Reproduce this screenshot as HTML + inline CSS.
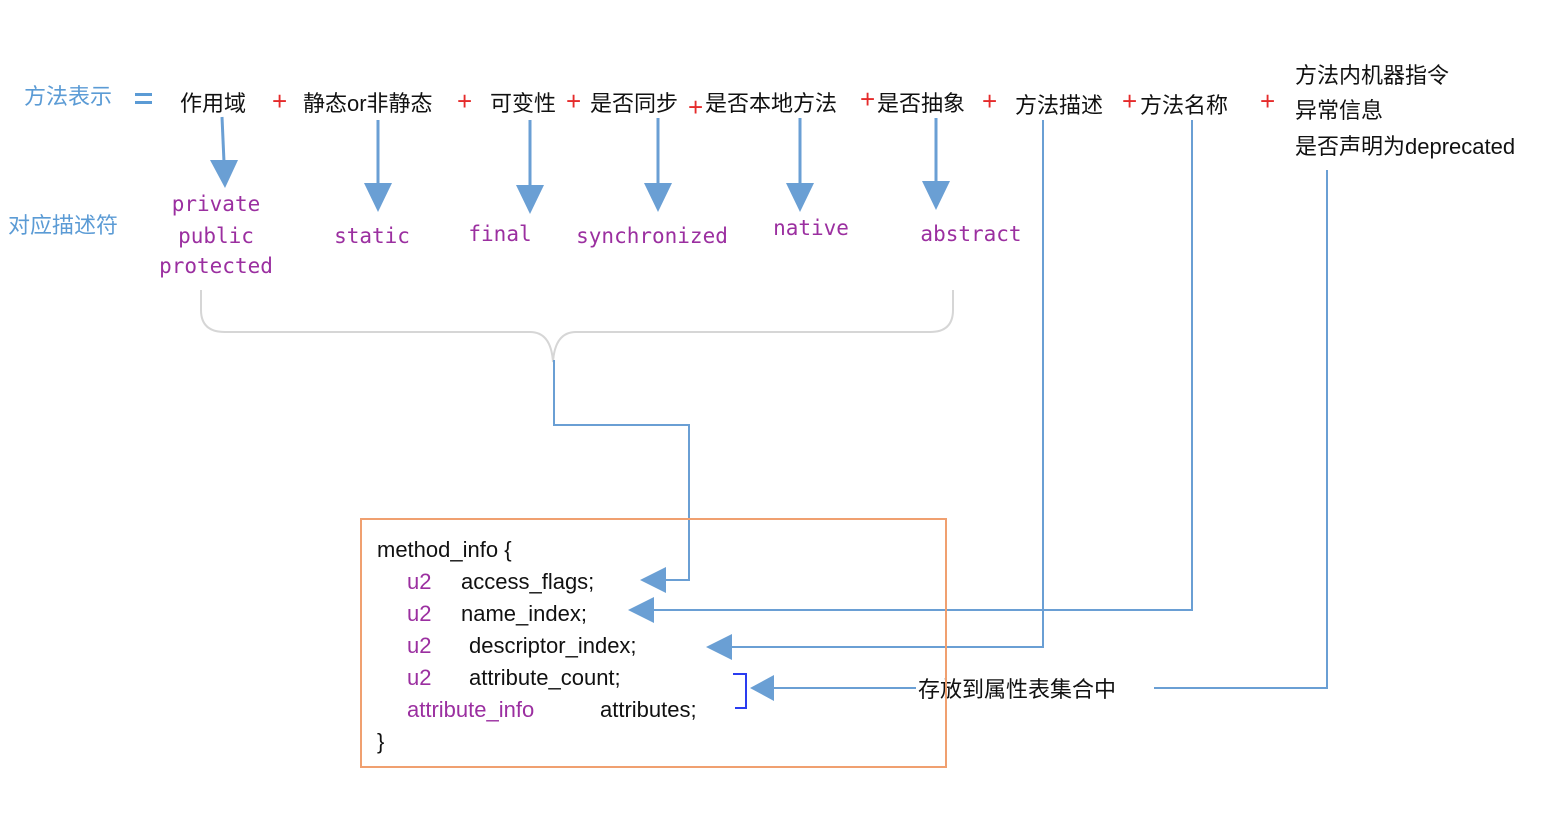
<!DOCTYPE html>
<html><head><meta charset="utf-8"><style>
html,body{margin:0;padding:0;background:#fff;}
svg{display:block;}
.cj{font-family:"Liberation Sans","Noto Sans CJK SC",sans-serif;font-size:22px;fill:#111;}
.bl{fill:#5b9bd5;}
.pl{font-family:"DejaVu Sans Mono","Liberation Mono",monospace;font-size:21px;fill:#9b2fa0;}
.rd{font-family:"Liberation Sans",sans-serif;font-size:26px;fill:#e52b2b;}
.cd{font-family:"Liberation Sans","Noto Sans CJK SC",sans-serif;font-size:22px;fill:#111;}
.u{fill:#9b2fa0;}
</style></head><body>
<svg width="1554" height="830" viewBox="0 0 1554 830" xmlns="http://www.w3.org/2000/svg">
<defs>
<marker id="ah" markerWidth="10" markerHeight="10" refX="9" refY="5" orient="auto" markerUnits="userSpaceOnUse" viewBox="0 0 10 10"><path d="M0,0 L10,5 L0,10 z" fill="#6a9fd4"/></marker>
</defs>
<!-- top row -->
<text x="24" y="104" class="cj bl">方法表示</text>
<rect x="135" y="93" width="17" height="3" fill="#5b9bd5"/><rect x="135" y="101" width="17" height="3" fill="#5b9bd5"/>
<text x="180" y="111" class="cj">作用域</text>
<text x="272" y="110" class="rd">+</text>
<text x="303" y="111" class="cj">静态or非静态</text>
<text x="457" y="110" class="rd">+</text>
<text x="490" y="111" class="cj">可变性</text>
<text x="566" y="110" class="rd">+</text>
<text x="590" y="111" class="cj">是否同步</text>
<text x="688" y="116" class="rd">+</text>
<text x="705" y="111" class="cj">是否本地方法</text>
<text x="860" y="108" class="rd">+</text>
<text x="877" y="111" class="cj">是否抽象</text>
<text x="982" y="110" class="rd">+</text>
<text x="1015" y="113" class="cj">方法描述</text>
<text x="1122" y="110" class="rd">+</text>
<text x="1140" y="113" class="cj">方法名称</text>
<text x="1260" y="110" class="rd">+</text>
<text x="1295" y="83" class="cj">方法内机器指令</text>
<text x="1295" y="118" class="cj">异常信息</text>
<text x="1295" y="154" class="cj">是否声明为deprecated</text>
<text x="8" y="233" class="cj bl">对应描述符</text>
<!-- thick arrows -->
<g stroke="#6a9fd4" stroke-width="3" fill="#6a9fd4">
<line x1="222" y1="117" x2="224" y2="162"/><path d="M210,160 L238,160 L225,188 z" stroke="none"/>
<line x1="378" y1="120" x2="378" y2="185"/><path d="M364,183 L392,183 L378,212 z" stroke="none"/>
<line x1="530" y1="120" x2="530" y2="187"/><path d="M516,185 L544,185 L530,214 z" stroke="none"/>
<line x1="658" y1="118" x2="658" y2="185"/><path d="M644,183 L672,183 L658,212 z" stroke="none"/>
<line x1="800" y1="118" x2="800" y2="185"/><path d="M786,183 L814,183 L800,212 z" stroke="none"/>
<line x1="936" y1="118" x2="936" y2="183"/><path d="M922,181 L950,181 L936,210 z" stroke="none"/>
</g>
<!-- purple labels -->
<g class="pl" text-anchor="middle">
<text x="216" y="211">private</text>
<text x="216" y="243">public</text>
<text x="216" y="273">protected</text>
<text x="372" y="243">static</text>
<text x="500" y="241">final</text>
<text x="652" y="243">synchronized</text>
<text x="811" y="235">native</text>
<text x="971" y="241">abstract</text>
</g>
<!-- brace -->
<path d="M201,290 L201,310 Q201,332 225,332 L530,332 Q551,332 553,362 Q555,332 576,332 L930,332 Q953,332 953,310 L953,290" fill="none" stroke="#d6d6d6" stroke-width="2"/>
<!-- thin connectors -->
<g fill="none" stroke="#6a9fd4" stroke-width="2">
<polyline points="554,360 554,425 689,425 689,580 664,580"/>
<polyline points="1192,120 1192,610 652,610"/>
<polyline points="1043,120 1043,647 730,647"/>
<polyline points="1327,170 1327,688 772,688"/>
</g>
<g fill="#6a9fd4">
<path d="M640,580 L666,567 L666,593 z"/>
<path d="M628,610 L654,597 L654,623 z"/>
<path d="M706,647 L732,634 L732,660 z"/>
<path d="M750,688 L774,675 L774,701 z"/>
</g>
<rect x="916" y="674" width="238" height="28" fill="#fff"/>
<text x="918" y="697" class="cj">存放到属性表集合中</text>
<!-- box -->
<rect x="361" y="519" width="585" height="248" fill="none" stroke="#f0a070" stroke-width="2"/>
<g class="cd">
<text x="377" y="557">method_info {</text>
<text x="407" y="589"><tspan class="u">u2</tspan><tspan x="461">access_flags;</tspan></text>
<text x="407" y="621"><tspan class="u">u2</tspan><tspan x="461">name_index;</tspan></text>
<text x="407" y="653"><tspan class="u">u2</tspan><tspan x="469">descriptor_index;</tspan></text>
<text x="407" y="685"><tspan class="u">u2</tspan><tspan x="469">attribute_count;</tspan></text>
<text x="407" y="717"><tspan class="u">attribute_info</tspan><tspan x="600">attributes;</tspan></text>
<text x="377" y="749">}</text>
</g>
<polyline points="733,674 746,674 746,708 735,708" fill="none" stroke="#2a3cf0" stroke-width="2"/>
</svg>
</body></html>
